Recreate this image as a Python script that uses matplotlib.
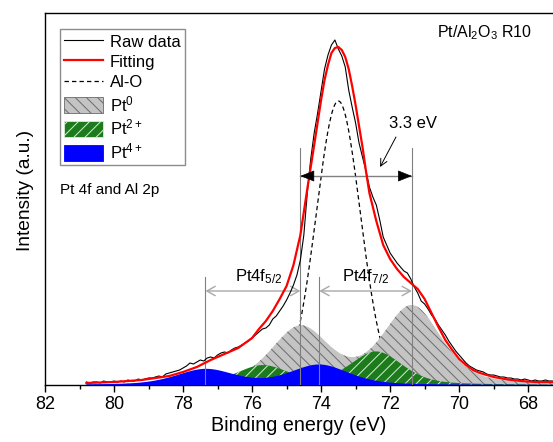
import numpy as np
import matplotlib
matplotlib.use("Agg")
import matplotlib.pyplot as plt
from matplotlib.patches import Patch
from matplotlib.lines import Line2D

plt.rcParams['font.family'] = ['Liberation Sans', 'DejaVu Sans']
plt.rcParams['mathtext.fontset'] = 'custom'
plt.rcParams['mathtext.rm'] = 'Liberation Sans'
plt.rcParams['mathtext.it'] = 'Liberation Sans:italic'
plt.rcParams['mathtext.bf'] = 'Liberation Sans:bold'
plt.rcParams['hatch.linewidth'] = 0.7

# ---------------- data ----------------
# raw spectrum, binding energy from 80.8 eV down to 67.3 eV in 0.1 eV steps
raw_start, raw_stop, raw_step = 80.8, 67.3, 0.1
raw_intensity = [
    3, 2, 3, 3, 2, 4, 3, 3, 4, 3,
    4, 3, 5, 4, 4, 6, 5, 6, 7, 7,
    8, 9, 8, 11, 12, 13, 14, 15, 17, 19,
    22, 21, 23, 25, 24, 27, 28, 27, 30, 32,
    33, 32, 35, 37, 38, 40, 42, 44, 47, 50,
    53, 56, 57, 60, 66, 69, 74, 79, 85, 92,
    100, 110, 125, 150, 192, 226, 252, 272, 294, 316,
    330, 340, 345, 336, 329, 318, 295, 278, 262, 242,
    228, 214, 198, 188, 180, 165, 148, 140, 132, 127,
    122, 118, 114, 112, 106, 98, 92, 84, 81, 76,
    70, 66, 60, 55, 50, 44, 39, 34, 30, 26,
    22, 19, 17, 15, 14, 13, 11, 10, 10, 9,
    8, 8, 7, 7, 6, 6, 5, 6, 5, 4,
    5, 4, 4, 5, 4, 4,
]

# fitted envelope
fit_energy = [80.8, 80.4, 80.0, 79.6, 79.2, 78.8, 78.4, 78.0, 77.6, 77.2,
              76.8, 76.4, 76.0, 75.8, 75.6, 75.4, 75.2, 75.0, 74.8, 74.6,
              74.4, 74.2, 74.0, 73.9, 73.8, 73.7, 73.6, 73.5, 73.4, 73.3,
              73.2, 73.1, 73.0, 72.9, 72.8, 72.7, 72.6, 72.4, 72.2, 72.0,
              71.8, 71.6, 71.4, 71.2, 71.0, 70.8, 70.6, 70.4, 70.2, 70.0,
              69.8, 69.6, 69.4, 69.0, 68.6, 68.2, 67.8, 67.3]
fit_intensity = [2, 2.5, 3, 4, 5, 7, 9, 13, 18, 25,
                 31, 37, 47, 56, 64, 74, 86, 99, 120, 150,
                 196, 240, 285, 305, 320, 332, 337, 338, 335, 328,
                 316, 299, 280, 259, 238, 214, 192, 164, 140, 126,
                 116, 108, 102, 96, 86, 72, 58, 45, 35, 26,
                 20, 15, 12, 8, 5.5, 4, 3, 3]

# fitted components: centre (eV), height (a.u.), FWHM (eV)
alo_center, alo_height, alo_fwhm = 73.5, 284, 1.5
pt0_centers, pt0_heights, pt0_fwhm = [74.6, 71.37], [57, 78], 2.0
pt2_centers, pt2_heights, pt2_fwhm = [75.7, 72.4], [19, 33], 1.8
pt4_centers, pt4_heights, pt4_fwhm = [77.35, 74.05], [15.5, 20], 2.0
lorentz_fraction = 0.4

xticks = [82, 80, 78, 76, 74, 72, 70, 68]
legend_labels = ['Raw data', 'Fitting', 'Al-O', 'Pt$^{0}$', 'Pt$^{2+}$', 'Pt$^{4+}$']


def pseudo_voigt(x, centers, heights, fwhm, eta):
    y = np.zeros_like(x)
    for c, h in zip(centers, heights):
        d = (x - c) / fwhm
        g = np.exp(-4 * np.log(2) * d ** 2)
        lo = 1.0 / (1 + 4 * d ** 2)
        y += h * ((1 - eta) * g + eta * lo)
    return y


raw_energy = raw_start - raw_step * np.arange(len(raw_intensity))
xg = np.linspace(raw_start, 67.28, 800)
alo = pseudo_voigt(xg, [alo_center], [alo_height], alo_fwhm, 0.0)
pt0 = pseudo_voigt(xg, pt0_centers, pt0_heights, pt0_fwhm, lorentz_fraction)
pt2 = pseudo_voigt(xg, pt2_centers, pt2_heights, pt2_fwhm, lorentz_fraction)
pt4 = pseudo_voigt(xg, pt4_centers, pt4_heights, pt4_fwhm, lorentz_fraction)

# ---------------- figure ----------------
fig = plt.figure(figsize=(5.53, 4.42), dpi=100)
ax = fig.add_axes([45 / 553, 57 / 442, 508 / 553, 372 / 442])

gray_face, gray_hatch = '#c4c4c4', '#6a6a6a'
green_face, green_hatch = '#1c7c1c', '#d8ecd8'
blue_face = '#0000ff'
gray_pattern = '\\' * 3
green_pattern = '/' * 3

ax.plot(xg, alo, color='black', lw=0.9, ls=(0, (3.5, 2.5)), zorder=2)
ax.fill_between(xg, 0, pt0, facecolor=gray_face, edgecolor='none', lw=0, zorder=3)
ax.fill_between(xg, 0, pt0, facecolor='none', edgecolor=gray_hatch, hatch=gray_pattern, lw=0, zorder=3.1)
ax.fill_between(xg, 0, pt2, facecolor=green_face, edgecolor='none', lw=0, zorder=4)
ax.fill_between(xg, 0, pt2, facecolor='none', edgecolor=green_hatch, hatch=green_pattern, lw=0, zorder=4.1)
ax.fill_between(xg, 0, pt4, facecolor=blue_face, edgecolor='none', lw=0, zorder=5)

ax.plot(raw_energy, raw_intensity, color='black', lw=0.8, zorder=7)
ax.plot(fit_energy, fit_intensity, color='#ff0000', lw=1.6, zorder=8)

# guide lines and arrows
vcol = '#808080'
for e in (pt0_centers[0], pt0_centers[1]):
    ax.plot([e, e], [0, 237], color=vcol, lw=0.8, zorder=6)
for e in (pt4_centers[0], pt4_centers[1]):
    ax.plot([e, e], [0, 108], color=vcol, lw=0.8, zorder=6)

y_arr = 209
ax.plot([pt0_centers[0], pt0_centers[1]], [y_arr, y_arr], color=vcol, lw=1.0, zorder=6)
for tip, tail in ((pt0_centers[0], pt0_centers[0] - 0.3), (pt0_centers[1], pt0_centers[1] + 0.3)):
    ax.annotate('', xy=(tip, y_arr), xytext=(tail, y_arr),
                arrowprops=dict(arrowstyle='-|>,head_length=0.6,head_width=0.24',
                                color='black', lw=0.5, mutation_scale=15,
                                shrinkA=0, shrinkB=0), zorder=9)
ax.text(71.33, 261, '3.3 eV', fontsize=12, ha='center', va='center', zorder=9)
ax.annotate('', xy=(72.29, 218), xytext=(71.83, 248),
            arrowprops=dict(arrowstyle='->,head_length=0.5,head_width=0.25',
                            color='black', lw=0.7, mutation_scale=10,
                            shrinkA=0, shrinkB=0), zorder=9)

acol = '#a8a8a8'
y_pt = 94
ax.annotate('', xy=(pt4_centers[0], y_pt), xytext=(pt0_centers[0], y_pt),
            arrowprops=dict(arrowstyle='<->,head_length=0.5,head_width=0.28',
                            color=acol, lw=1.0, mutation_scale=12,
                            shrinkA=0, shrinkB=0), zorder=6)
ax.annotate('', xy=(pt4_centers[1], y_pt), xytext=(pt0_centers[1], y_pt),
            arrowprops=dict(arrowstyle='<->,head_length=0.5,head_width=0.28',
                            color=acol, lw=1.0, mutation_scale=12,
                            shrinkA=0, shrinkB=0), zorder=6)
ax.text(76.49, 104, 'Pt4f$_{5/2}$', fontsize=12, ha='left', va='baseline', zorder=9)
ax.text(73.40, 104, 'Pt4f$_{7/2}$', fontsize=12, ha='left', va='baseline', zorder=9)

ax.text(0.771, 0.936, 'Pt/Al$_{2}$O$_{3}$ R10', transform=ax.transAxes,
        fontsize=11.5, ha='left', va='baseline')
ax.text(0.0295, 0.5126, 'Pt 4f and Al 2p', transform=ax.transAxes,
        fontsize=11, ha='left', va='baseline')

# axes
ax.set_xlim(82, 67.28)
ax.set_ylim(0, 372)
ax.set_xticks(xticks)
ax.set_xticks([81, 79, 77, 75, 73, 71, 69], minor=True)
ax.set_xticklabels([str(t) for t in xticks])
ax.set_yticks([])
ax.tick_params(axis='x', which='major', direction='out', length=5, width=1.0, labelsize=13, pad=3)
ax.tick_params(axis='x', which='minor', direction='out', length=3, width=1.0)
for s in ('left', 'bottom', 'top'):
    ax.spines[s].set_linewidth(1.0)
ax.spines['right'].set_visible(False)
ax.set_xlabel('Binding energy (eV)', fontsize=14.2, labelpad=2)
ax.set_ylabel('Intensity (a.u.)', fontsize=13.8)
ax.yaxis.set_label_coords(-0.022, 0.524)

handles = [
    Line2D([], [], color='black', lw=0.8),
    Line2D([], [], color='#ff0000', lw=1.6),
    Line2D([], [], color='black', lw=0.9, ls=(0, (3.5, 2.5))),
    Patch(facecolor=gray_face, edgecolor=gray_hatch, hatch=gray_pattern, lw=0.6),
    Patch(facecolor=green_face, edgecolor=green_hatch, hatch=green_pattern, lw=0.6),
    Patch(facecolor=blue_face, edgecolor=blue_face, lw=0.6),
]
leg = ax.legend(handles, legend_labels, loc='upper left', bbox_to_anchor=(0.0295, 0.957),
                borderaxespad=0, fontsize=12, frameon=True, fancybox=False,
                edgecolor='#8c8c8c', framealpha=1, handlelength=2.35,
                handleheight=1.1, handletextpad=0.4, labelspacing=0.22, borderpad=0.25)
leg.get_frame().set_linewidth(1.0)
leg.set_zorder(10)

fig.savefig('out.png', dpi=100)
